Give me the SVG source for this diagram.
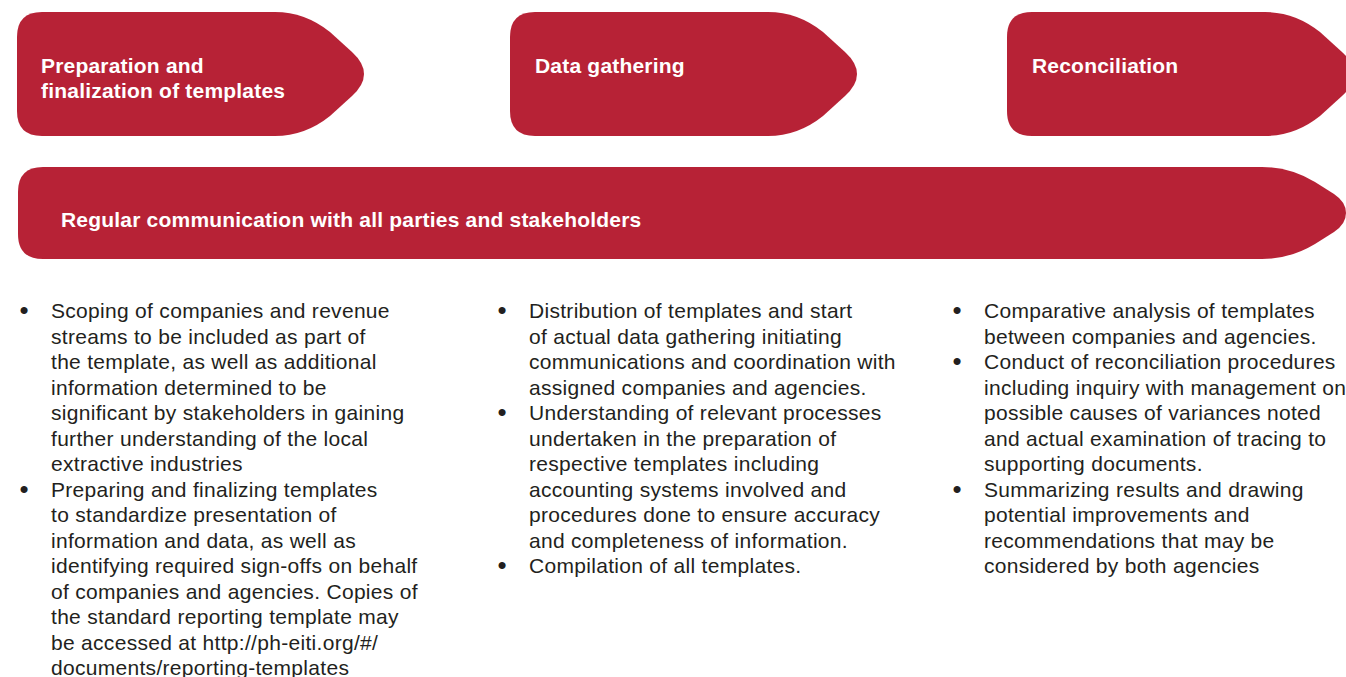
<svg xmlns="http://www.w3.org/2000/svg" width="1346" height="677" viewBox="0 0 1346 677">
<defs>
<style>
.shape{fill:#b72236}
.title{font-family:"Liberation Sans",Arial,sans-serif;font-weight:bold;font-size:21px;letter-spacing:0.2px;fill:#ffffff}
.body{font-family:"Liberation Sans",Arial,sans-serif;font-size:21px;letter-spacing:0.3px;fill:#231f20}
.bul{font-family:"Liberation Sans",Arial,sans-serif;font-size:26px;fill:#231f20;text-anchor:middle}
</style>
<path id="tag" d="M25,0 H258 Q288,0 313,20 L335,40 Q347,51 347,62 Q347,73 335,84 L313,104 Q288,124 258,124 H25 Q0,124 0,99 V25 Q0,0 25,0 Z"/>
</defs>
<rect width="1346" height="677" fill="#ffffff"/>
<g id="node-preparation">
<use href="#tag" class="shape" x="17" y="12"/>
<text class="title" x="41" y="73">Preparation and</text>
<text class="title" x="41" y="98">finalization of templates</text>
</g>
<g id="node-data-gathering">
<use href="#tag" class="shape" x="510" y="12"/>
<text class="title" x="535" y="73">Data gathering</text>
</g>
<g id="node-reconciliation">
<use href="#tag" class="shape" x="1007" y="12"/>
<text class="title" x="1032" y="73">Reconciliation</text>
</g>
<g id="node-communication">
<path class="shape" d="M43,167 H1262 Q1290,167 1315,182 L1334,194 Q1346,202 1346,213 Q1346,224 1334,232 L1315,244 Q1290,259 1262,259 H43 Q18,259 18,234 V192 Q18,167 43,167 Z"/>
<text class="title" x="61" y="227">Regular communication with all parties and stakeholders</text>
</g>
<g id="connectors"></g>
<g id="list-preparation">
<text class="bul" x="24" y="319">•</text>
<text class="bul" x="24" y="497.5">•</text>
<text class="body" x="51">
<tspan x="51" y="318">Scoping of companies and revenue</tspan>
<tspan x="51" y="343.5">streams to be included as part of</tspan>
<tspan x="51" y="369">the template, as well as additional</tspan>
<tspan x="51" y="394.5">information determined to be</tspan>
<tspan x="51" y="420">significant by stakeholders in gaining</tspan>
<tspan x="51" y="445.5">further understanding of the local</tspan>
<tspan x="51" y="471">extractive industries</tspan>
<tspan x="51" y="496.5">Preparing and finalizing templates</tspan>
<tspan x="51" y="522">to standardize presentation of</tspan>
<tspan x="51" y="547.5">information and data, as well as</tspan>
<tspan x="51" y="573">identifying required sign-offs on behalf</tspan>
<tspan x="51" y="598.5">of companies and agencies. Copies of</tspan>
<tspan x="51" y="624">the standard reporting template may</tspan>
<tspan x="51" y="649.5">be accessed at http://ph-eiti.org/#/</tspan>
<tspan x="51" y="675">documents/reporting-templates</tspan>
</text>
</g>
<g id="list-data-gathering">
<text class="bul" x="502" y="319">•</text>
<text class="bul" x="502" y="421">•</text>
<text class="bul" x="502" y="574">•</text>
<text class="body" x="529">
<tspan x="529" y="318">Distribution of templates and start</tspan>
<tspan x="529" y="343.5">of actual data gathering initiating</tspan>
<tspan x="529" y="369">communications and coordination with</tspan>
<tspan x="529" y="394.5">assigned companies and agencies.</tspan>
<tspan x="529" y="420">Understanding of relevant processes</tspan>
<tspan x="529" y="445.5">undertaken in the preparation of</tspan>
<tspan x="529" y="471">respective templates including</tspan>
<tspan x="529" y="496.5">accounting systems involved and</tspan>
<tspan x="529" y="522">procedures done to ensure accuracy</tspan>
<tspan x="529" y="547.5">and completeness of information.</tspan>
<tspan x="529" y="573">Compilation of all templates.</tspan>
</text>
</g>
<g id="list-reconciliation">
<text class="bul" x="957" y="319">•</text>
<text class="bul" x="957" y="370">•</text>
<text class="bul" x="957" y="497.5">•</text>
<text class="body" x="984">
<tspan x="984" y="318">Comparative analysis of templates</tspan>
<tspan x="984" y="343.5">between companies and agencies.</tspan>
<tspan x="984" y="369">Conduct of reconciliation procedures</tspan>
<tspan x="984" y="394.5">including inquiry with management on</tspan>
<tspan x="984" y="420">possible causes of variances noted</tspan>
<tspan x="984" y="445.5">and actual examination of tracing to</tspan>
<tspan x="984" y="471">supporting documents.</tspan>
<tspan x="984" y="496.5">Summarizing results and drawing</tspan>
<tspan x="984" y="522">potential improvements and</tspan>
<tspan x="984" y="547.5">recommendations that may be</tspan>
<tspan x="984" y="573">considered by both agencies</tspan>
</text>
</g>
</svg>
